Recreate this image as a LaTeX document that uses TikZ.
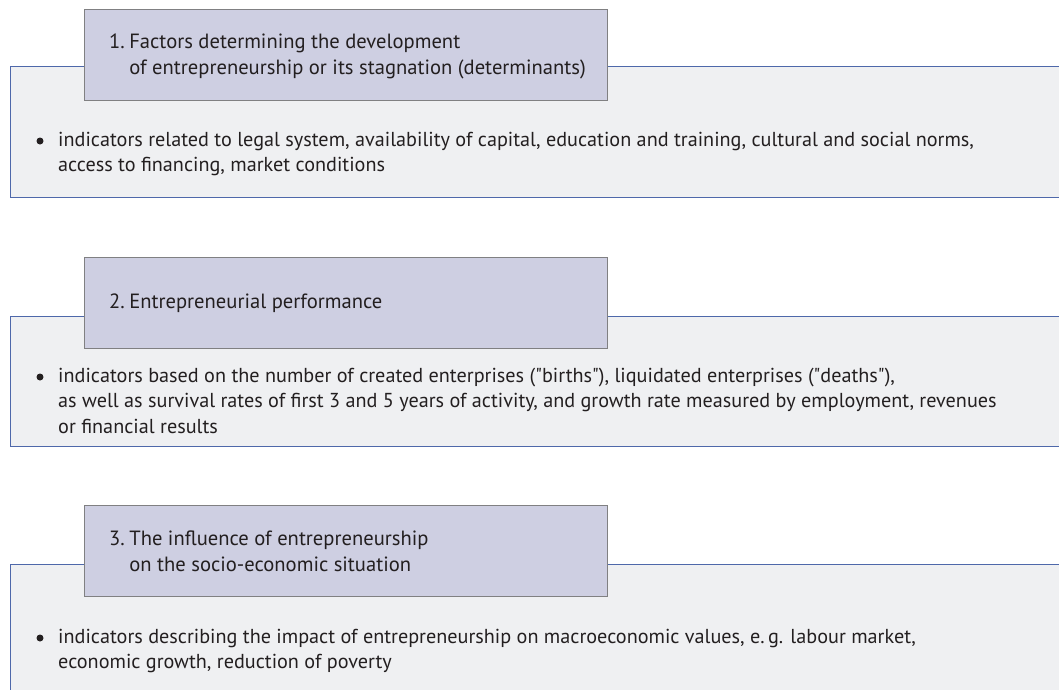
\documentclass[tikz,border=0pt]{standalone}
\usepackage{fontspec}
\setmainfont{PT Sans}
\usetikzlibrary{positioning}
\definecolor{headfill}{RGB}{206,207,226}
\definecolor{headline}{RGB}{128,128,130}
\definecolor{panelfill}{RGB}{239,240,242}
\definecolor{panelline}{RGB}{78,104,170}
\definecolor{ink}{RGB}{35,31,32}
\newcommand{\numgap}{\hspace{4.5pt}}

\begin{document}
\begin{tikzpicture}[
  x=1pt, y=-1pt,
  panel/.style={draw=panelline, fill=panelfill, line width=1.3pt, anchor=north west, inner sep=0pt, minimum width=1080pt, minimum height=#1},
  header/.style={draw=headline, fill=headfill, line width=1.3pt, anchor=north west, inner sep=0pt, minimum width=523pt, minimum height=91pt},
  headtext/.style={anchor=north west, inner sep=0pt, align=left, text=ink, font=\fontsize{20.6}{26}\selectfont},
  bodytext/.style={anchor=north west, inner sep=0pt, align=left, text=ink, font=\fontsize{20.2}{25.5}\selectfont},
  dot/.style={circle, fill=ink, inner sep=0pt, minimum size=7pt}
]
\useasboundingbox (0,0) rectangle (1059,689);
\clip (0,0) rectangle (1059,689);

\node[panel=131pt] (panel1) at (10,66) {};
\node[panel=130pt] (panel2) at (10,316) {};
\node[panel=140pt] (panel3) at (10,564) {};

\node[header] (head1) at (84,9) {};
\node[header] (head2) at (84,257) {};
\node[header] (head3) at (84,505) {};

\node[headtext] (title1) at (109,48-18.2) {\strut1.\numgap Factors determining the development\\
  \hphantom{1.\numgap}of entrepreneurship or its stagnation (determinants)};
\node[headtext] (title2) at (109,308-18.2) {\strut2.\numgap Entrepreneurial performance};
\node[headtext] (title3) at (109,545-18.2) {\strut3.\numgap The influence of entrepreneurship\\
  \hphantom{3.\numgap}on the socio-economic situation};

\node[dot] (dot1) at (40,141) {};
\node[bodytext] (text1) at (58,146-17.85) {\strut indicators related to legal system, availability of capital, education and training, cultural and social norms,\\
  access to financing, market conditions};
\node[dot] (dot2) at (40,377) {};
\node[bodytext] (text2) at (58,382-17.85) {\strut indicators based on the number of created enterprises (\textquotedbl births\textquotedbl), liquidated enterprises (\textquotedbl deaths\textquotedbl),\\
  as well as survival rates of first 3 and 5 years of activity, and growth rate measured by employment, revenues\\
  or financial results};
\node[dot] (dot3) at (40,638) {};
\node[bodytext] (text3) at (58,643-17.85) {\strut indicators describing the impact of entrepreneurship on macroeconomic values, e.\,g. labour market,\\
  economic growth, reduction of poverty};
\end{tikzpicture}
\end{document}
